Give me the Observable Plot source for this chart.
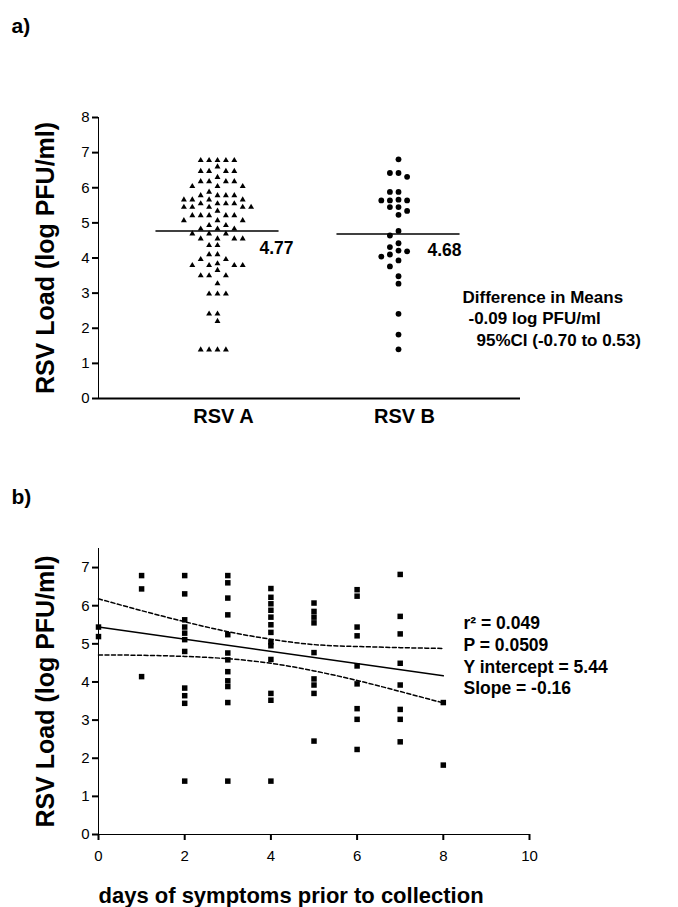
<!DOCTYPE html>
<html>
<head>
<meta charset="utf-8">
<script src="https://cdn.jsdelivr.net/npm/d3@7"></script>
<script src="https://cdn.jsdelivr.net/npm/@observablehq/plot@0.6"></script>
<style>
html, body { margin: 0; padding: 0; background: #fff; }
#chart { position: relative; width: 678px; height: 907px; background: #fff; }
#chart svg { position: absolute; left: 0; display: block; overflow: visible; }
#chart g[aria-label="y-axis tick"] path, #chart g[aria-label="x-axis tick"] path { stroke-width: 2px; }
#chart g[aria-label="y-axis line"] path, #chart g[aria-label="x-axis line"] path { stroke-width: 2px; }
</style>
</head>
<body>
<div id="chart"></div>
<script>
// ---------------- DATA ----------------
// Panel a: viral load per subtype (log PFU/ml)
const groups = ["RSV A", "RSV B"];
const rsvA = [
  6.78, 6.78, 6.78, 6.78, 6.78, 6.6, 6.47, 6.47, 6.47, 6.47, 6.3,
  6.18, 6.18, 6.18, 6.18, 6.04, 6.04, 6.04, 5.88, 5.78, 5.78, 5.78, 5.78,
  5.66, 5.66, 5.66, 5.66, 5.55, 5.55, 5.55, 5.55, 5.45, 5.45, 5.45, 5.45, 5.45,
  5.34, 5.21, 5.21, 5.21, 5.21, 5.21, 5.07, 5.07, 5.07, 4.93, 4.93,
  4.83, 4.83, 4.83, 4.69, 4.69, 4.69, 4.55, 4.55, 4.55, 4.55, 4.36, 4.36,
  4.10, 4.10, 3.96, 3.96, 3.84, 3.79, 3.79, 3.79, 3.79, 3.65, 3.50, 3.50, 3.50,
  3.27, 2.98, 2.98, 2.98, 2.41, 2.41, 2.2, 1.39, 1.39, 1.39, 1.39
];
const rsvB = [
  6.81, 6.42, 6.42, 6.31, 5.88, 5.88, 5.66, 5.64, 5.64, 5.64, 5.45, 5.45,
  5.34, 5.23, 4.77, 4.64, 4.42, 4.31, 4.21, 4.19, 4.10, 4.04, 3.93, 3.76,
  3.48, 3.27, 2.41, 1.82, 1.40
];
const means = [4.77, 4.68];
const meanLabels = ["4.77", "4.68"];
const diffLines = ["Difference in Means", "-0.09 log PFU/ml", "95%CI (-0.70 to 0.53)"];
const yTicksA = [0, 1, 2, 3, 4, 5, 6, 7, 8];

// Panel b: load vs days of symptoms
const days = [0, 1, 2, 3, 4, 5, 6, 7, 8];
const loadsByDay = [
  [5.44, 5.19],
  [6.79, 6.44, 4.14],
  [6.79, 6.31, 5.63, 5.44, 5.28, 5.11, 4.80, 3.84, 3.64, 3.44, 1.40],
  [6.79, 6.60, 6.20, 5.76, 5.24, 4.76, 4.58, 4.27, 4.03, 3.88, 3.46, 1.40],
  [6.45, 6.22, 6.05, 5.88, 5.70, 5.50, 5.30, 5.05, 4.95, 4.59, 3.70, 3.52, 1.40],
  [6.07, 5.85, 5.70, 5.55, 4.77, 4.08, 3.92, 3.70, 2.45],
  [6.42, 6.25, 5.44, 5.21, 4.42, 3.95, 3.30, 3.02, 2.23],
  [6.82, 5.72, 5.26, 4.49, 3.92, 3.28, 3.02, 2.43],
  [3.46, 1.82]
];
const regX = [0, 8];
const regY = [5.44, 4.16];
const ciX = [0, 1, 2, 3, 4, 5, 6, 7, 8];
const ciUpper = [6.18, 5.87, 5.58, 5.32, 5.12, 4.98, 4.93, 4.90, 4.88];
const ciLower = [4.71, 4.70, 4.67, 4.61, 4.49, 4.29, 4.04, 3.75, 3.45];
const statLines = ["r\u00B2 = 0.049", "P = 0.0509", "Y intercept = 5.44", "Slope = -0.16"];
const xTicksB = [0, 2, 4, 6, 8, 10];
const yTicksB = [0, 1, 2, 3, 4, 5, 6, 7];

// ---------------- LAYOUT ----------------
const FONT = '"Liberation Sans", Arial, Helvetica, sans-serif';
const W = 678;
const A = {h: 460, ml: 98, mr: 158, mt: 117, mb: 62, xd: [0.3425, 2.674], yd: [0, 8]};
const B = {top: 460, h: 447, ml: 98, mr: 149, mt: 88, mb: 73};

const pxPerY = (A.h - A.mt - A.mb) / (A.yd[1] - A.yd[0]);
const pxPerX = (W - A.ml - A.mr) / (A.xd[1] - A.xd[0]);

// Prism-like column scatter: points sorted, each put in the nearest free column
function swarm(values, center, stepPx, gapPx) {
  const pts = values.map(v => ({v})).sort((a, b) => b.v - a.v);
  const placed = [];
  for (const p of pts) {
    const py = p.v * pxPerY;
    for (let i = 0; ; i++) {
      const k = i === 0 ? 0 : (i % 2 ? -Math.ceil(i / 2) : Math.ceil(i / 2));
      if (!placed.some(q => q.k === k && Math.abs(q.py - py) < gapPx)) {
        p.k = k; p.py = py; placed.push(p); break;
      }
    }
    p.x = center + p.k * stepPx / pxPerX;
  }
  return pts;
}
const swarmA = swarm(rsvA, 1, 8.4, 6);
const swarmB = swarm(rsvB, 2, 8.6, 6);

const chart = document.getElementById("chart");
const bold = {fontWeight: "bold", lineAnchor: "middle"};

// ---------------- PANEL A ----------------
const plotA = Plot.plot({
  width: W, height: A.h,
  marginLeft: A.ml, marginRight: A.mr, marginTop: A.mt, marginBottom: A.mb,
  style: {fontFamily: FONT, fontSize: "15px", color: "#000", background: "transparent", overflow: "visible"},
  x: {domain: A.xd, axis: null},
  y: {domain: A.yd, ticks: yTicksA, tickSize: 6, tickPadding: 3, line: true, label: null},
  marks: [
    Plot.ruleY([0], {strokeWidth: 2}),
    Plot.dot(swarmA, {x: "x", y: "v", symbol: "triangle", r: 2.2, fill: "#000", stroke: "none"}),
    Plot.dot(swarmB, {x: "x", y: "v", symbol: "circle", r: 2.9, fill: "#000", stroke: "none"}),
    Plot.ruleY(means, {x1: (d, i) => i + 1 - 0.34, x2: (d, i) => i + 1 + 0.34, y: d => d, strokeWidth: 1.5}),
    Plot.text([meanLabels[0]], {x: () => 1, y: () => means[0], dx: 42, dy: 17, textAnchor: "start", ...bold, fontSize: 17.5}),
    Plot.text([meanLabels[1]], {x: () => 2, y: () => means[1], dx: 29, dy: 16, textAnchor: "start", ...bold, fontSize: 17.5}),
    Plot.text(groups, {x: (d, i) => i + 1, frameAnchor: "bottom", dx: 6, dy: 18, textAnchor: "middle", ...bold, fontSize: 20}),
    ...diffLines.map((t, i) => Plot.text([t], {frameAnchor: "top-left", dx: 364 + [0, 6, 14][i], dy: 180 + 21.5 * i, textAnchor: "start", ...bold, fontSize: 17})),
    Plot.text(["RSV Load (log PFU/ml)"], {frameAnchor: "left", dx: -53, rotate: -90, textAnchor: "middle", ...bold, fontSize: 25}),
    Plot.text(["a)"], {frameAnchor: "top-left", dx: -87, dy: -91, textAnchor: "start", ...bold, fontSize: 21})
  ]
});
plotA.style.top = "0px";
chart.appendChild(plotA);

// ---------------- PANEL B ----------------
const pointsB = days.flatMap((d, i) => loadsByDay[i].map(v => ({day: d, load: v})));
const reg = regX.map((x, i) => ({x, y: regY[i]}));
const up = ciX.map((x, i) => ({x, y: ciUpper[i]}));
const lo = ciX.map((x, i) => ({x, y: ciLower[i]}));

const plotB = Plot.plot({
  width: W, height: B.h,
  marginLeft: B.ml, marginRight: B.mr, marginTop: B.mt, marginBottom: B.mb,
  style: {fontFamily: FONT, fontSize: "15px", color: "#000", background: "transparent", overflow: "visible"},
  x: {domain: [0, 10], ticks: xTicksB, tickSize: 6, tickPadding: 10, line: true, label: null},
  y: {domain: [0, 7.5], ticks: yTicksB, tickSize: 6, tickPadding: 3, line: true, label: null},
  marks: [
    Plot.dot(pointsB, {x: "day", y: "load", symbol: "square", r: 3.1, fill: "#000", stroke: "none"}),
    Plot.line(reg, {x: "x", y: "y", strokeWidth: 1.5}),
    Plot.line(up, {x: "x", y: "y", strokeWidth: 1.5, strokeDasharray: "4,2.5", curve: "natural"}),
    Plot.line(lo, {x: "x", y: "y", strokeWidth: 1.5, strokeDasharray: "4,2.5", curve: "natural"}),
    ...statLines.map((t, i) => Plot.text([t], {frameAnchor: "top-left", dx: 365, dy: 75 + 21.7 * i, textAnchor: "start", ...bold, fontSize: 17.5})),
    Plot.text(["days of symptoms prior to collection"], {frameAnchor: "bottom-left", dx: 0, dy: 61, textAnchor: "start", ...bold, fontSize: 22}),
    Plot.text(["RSV Load (log PFU/ml)"], {frameAnchor: "left", dx: -53, rotate: -90, textAnchor: "middle", ...bold, fontSize: 25}),
    Plot.text(["b)"], {frameAnchor: "top-left", dx: -87, dy: -51, textAnchor: "start", ...bold, fontSize: 21})
  ]
});
plotB.style.top = B.top + "px";
chart.appendChild(plotB);
</script>
</body>
</html>
